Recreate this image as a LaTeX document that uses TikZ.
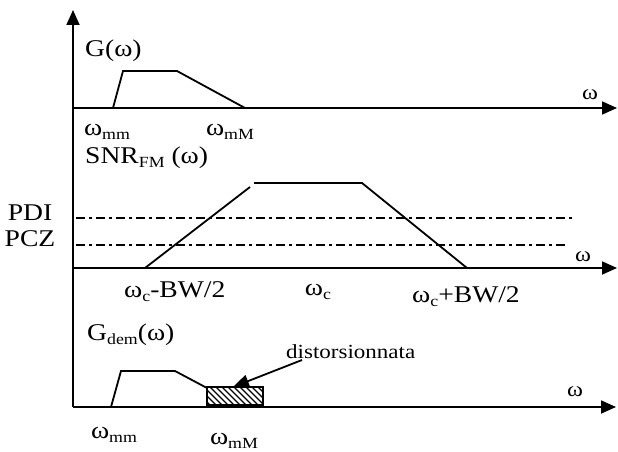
\documentclass[tikz,border=0pt]{standalone}
\usepackage{fontspec}
\setmainfont{Liberation Serif}
\usetikzlibrary{arrows.meta}
% slightly widened lettering and lowered small subscripts
\newcommand\hs[1]{\scalebox{1.15}[1]{#1}}
\newcommand\lowr[1]{\raisebox{-0.35ex}{\fontsize{15.5}{16}\selectfont #1}}

\begin{document}
\begin{tikzpicture}[x=1pt,y=-1pt,
  axis/.style={line width=1.8pt,-{Triangle[length=15pt,width=13pt]}},
  curve/.style={line width=1.8pt,line join=miter},
  level/.style={line width=1.5pt,dash pattern=on 9pt off 4pt on 3pt off 4pt},
  lbl/.style={inner sep=0pt,font=\fontsize{24}{26}\selectfont},
  wlbl/.style={inner sep=0pt,font=\fontsize{21}{22}\selectfont},
  note/.style={inner sep=0pt,font=\fontsize{20}{22}\selectfont},
  pointer/.style={line width=1.8pt,-{Triangle[length=16pt,width=13pt]}}]
\useasboundingbox (0,0) rectangle (618,452);

% axes
\coordinate (o1) at (73,108);
\coordinate (o2) at (73,268);
\coordinate (o3) at (73,407);
\coordinate (top) at (73,10);
\coordinate (e1) at (617,108);
\coordinate (e2) at (617,268);
\coordinate (e3) at (616,407);
\draw[axis] (o3) -- (top);
\draw[axis] (o1) -- (e1);
\draw[axis] (o2) -- (e2);
\draw[axis] (o3) -- (e3);

% baseband spectrum G(omega)
\draw[curve] (113,108) -- (123,71) -- (177,71) -- (245,108);
\node[lbl,anchor=west] (g) at (85,51) {\hs{G(ω)}};
\node[lbl] (wmm) at (107,132) {\hs{ω\lowr{mm}}};
\node[lbl] (wmM) at (230,132) {\hs{ω\lowr{mM}}};
\node[wlbl] (w1) at (590,95) {\hs{ω}};

% FM signal-to-noise ratio and thresholds
\node[lbl,anchor=west] (snr) at (85,158) {\hs{SNR\lowr{FM} (ω)}};
\node[lbl] (pdi) at (30,213) {\hs{PDI}};
\node[lbl] (pcz) at (30,239) {\hs{PCZ}};
\draw[level] (76,218) -- (573,218);
\draw[level] (76,245) -- (565,245);
\draw[curve] (145,268) -- (250,187);
\draw[curve] (254,183) -- (362,183) -- (467,268);
\node[wlbl] (w2) at (583,257) {\hs{ω}};
\node[lbl,anchor=west] (lo) at (124,292) {\hs{ω\lowr{c}-BW/2}};
\node[lbl] (wc) at (318,292) {\hs{ω\lowr{c}}};
\node[lbl,anchor=west] (hi) at (412,297) {\hs{ω\lowr{c}+BW/2}};

% demodulated spectrum with the distorted band
\node[lbl,anchor=west] (gdem) at (87,335) {\hs{G\lowr{dem}(ω)}};
\draw[curve] (111,407) -- (121,371) -- (175,371) -- (207,388);
\begin{scope}
  \clip (207,387) rectangle (263,405);
  \foreach \x in {186,192,...,264}
    \draw[line width=1.2pt] (\x,387) -- (\x+18,405);
\end{scope}
\node[draw,line width=1.8pt,minimum width=56pt,minimum height=18pt,inner sep=0pt]
  (dist) at (235,396) {};
\node[note,anchor=west] (dlbl) at (286,352) {\hs{distorsionnata}};
\coordinate (ptail) at (302,360);
\draw[pointer] (ptail) -- (233,387);
\node[wlbl] (w3) at (575,392) {\hs{ω}};
\node[lbl] (wmm2) at (114,435) {\hs{ω\lowr{mm}}};
\node[lbl] (wmM2) at (234,441) {\hs{ω\lowr{mM}}};
\end{tikzpicture}
\end{document}
